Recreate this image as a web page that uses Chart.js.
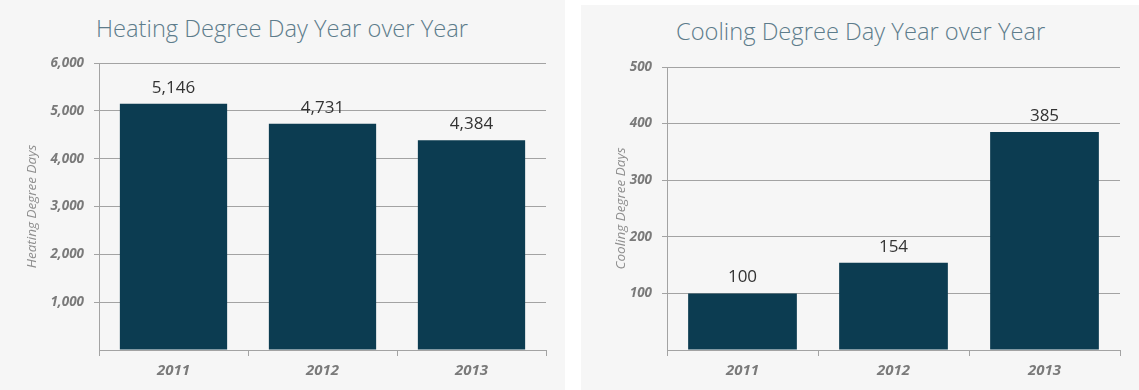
<!DOCTYPE html>
<html>
<head>
<meta charset="UTF-8">
<script src="https://cdn.jsdelivr.net/npm/chart.js"></script>
<style>
  body { margin: 0; background: #fff; width: 1139px; height: 390px; position: relative; overflow: hidden; font-family: "Open Sans", sans-serif; }
  .panel { position: absolute; background: #f6f6f6; }
  .title { position: absolute; font-family: "Open Sans", sans-serif; font-weight: 300; font-size: 23.7px; color: #5d7c8b; white-space: nowrap; }
  canvas { position: absolute; top: 0; left: 0; }
</style>
</head>
<body>
<div class="panel" id="p1" style="left:0;top:0;width:565px;height:390px;">
  <div class="title" style="left:96px;top:12px;">Heating Degree Day Year over Year</div>
  <div style="position:absolute;left:0;top:0;width:565px;height:390px;"><canvas id="heating"></canvas></div>
</div>
<div class="panel" id="p2" style="left:581px;top:5px;width:558px;height:385px;">
  <div class="title" style="left:95px;top:10px;">Cooling Degree Day Year over Year</div>
  <div style="position:absolute;left:0;top:-5px;width:558px;height:390px;"><canvas id="cooling"></canvas></div>
</div>
<script>
  const years = ['2011', '2012', '2013'];
  const heatingDays = [5146, 4731, 4384];
  const coolingDays = [100, 154, 385];
  const heatingTicks = { max: 6000, step: 1000 };
  const coolingTicks = { max: 500, step: 100 };

  const barColor = '#0c3c51';
  const gridColor = '#a3a3a3';
  const tickFont = { family: 'Open Sans', size: 13.5, style: 'italic', weight: 'bold' };

  // values above the bars
  const valueLabels = {
    id: 'valueLabels',
    afterDatasetsDraw(chart) {
      const ctx = chart.ctx;
      const meta = chart.getDatasetMeta(0);
      ctx.save();
      ctx.font = '17px "Open Sans", sans-serif';
      ctx.fillStyle = '#333';
      ctx.textAlign = 'center';
      ctx.textBaseline = 'middle';
      meta.data.forEach((bar, i) => {
        const v = chart.data.datasets[0].data[i];
        ctx.fillText(v.toLocaleString('en-US'), bar.x, bar.y - 16);
      });
      ctx.restore();
    }
  };

  function makeChart(id, values, ticks, yTitle, yWidth, pad) {
    return new Chart(document.getElementById(id), {
      type: 'bar',
      data: {
        labels: years,
        datasets: [{ data: values, backgroundColor: barColor, barPercentage: 0.72, categoryPercentage: 1 }]
      },
      options: {
        responsive: true,
        maintainAspectRatio: false,
        animation: false,
        layout: { padding: pad },
        plugins: { legend: { display: false }, tooltip: { enabled: false } },
        scales: {
          x: {
            grid: { drawOnChartArea: false, drawTicks: true, tickLength: 6, color: gridColor },
            border: { color: gridColor },
            ticks: { color: '#7a7a7a', font: { ...tickFont, size: 15 }, padding: 6 },
            afterFit: s => { s.height = 40; }
          },
          y: {
            min: 0,
            max: ticks.max,
            ticks: {
              stepSize: ticks.step,
              color: '#7a7a7a',
              font: tickFont,
              padding: 10,
              callback: v => v === 0 ? '' : v.toLocaleString('en-US')
            },
            grid: { color: ctx => ctx.tick.value === 0 ? 'rgba(0,0,0,0)' : gridColor, tickLength: 5 },
            border: { color: gridColor },
            title: {
              display: true,
              text: yTitle,
              color: '#8e8e8e',
              font: { family: 'Open Sans', size: 13.5, style: 'italic' },
              padding: 0
            },
            afterFit: s => { s.width = yWidth; }
          }
        }
      },
      plugins: [valueLabels]
    });
  }

  makeChart('heating', heatingDays, heatingTicks, 'Heating Degree Days', 75, { left: 24, right: 19, top: 63, bottom: 0 });
  makeChart('cooling', coolingDays, coolingTicks, 'Cooling Degree Days', 54, { left: 32, right: 19, top: 67, bottom: 0 });
</script>
</body>
</html>
